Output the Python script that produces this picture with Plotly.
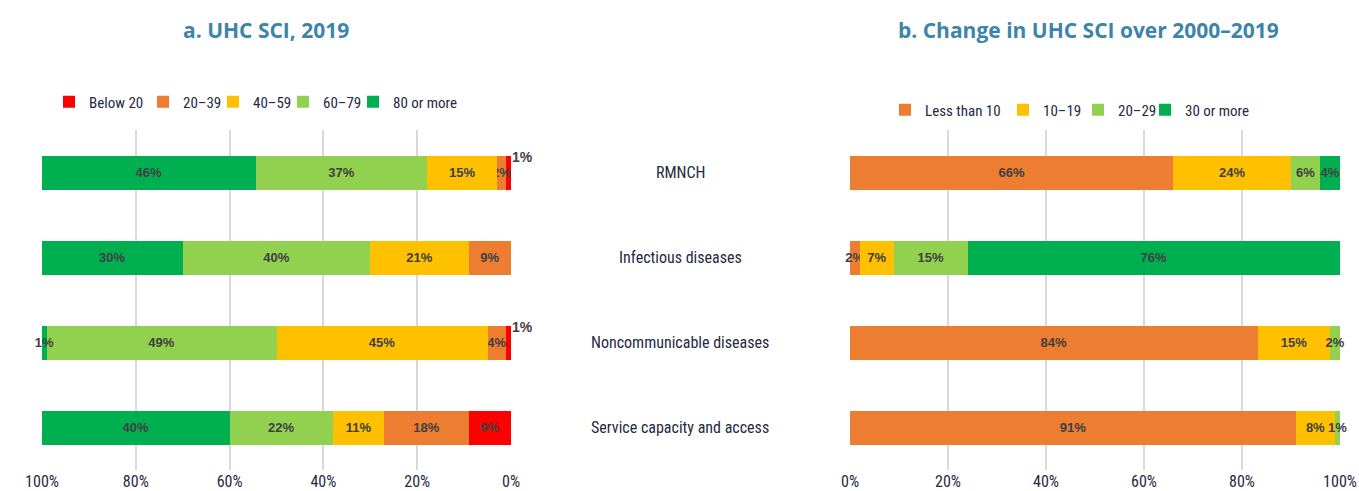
import plotly.graph_objects as go
from plotly.subplots import make_subplots

CATEGORIES = ["RMNCH", "Infectious diseases", "Noncommunicable diseases", "Service capacity and access"]

# panel a: distribution of countries by UHC SCI band, 2019 (%)
SCI_BANDS = ["Below 20", "20–39", "40–59", "60–79", "80 or more"]
SCI_BELOW_20 = [1, 0, 1, 9]
SCI_20_39 = [2, 9, 4, 18]
SCI_40_59 = [15, 21, 45, 11]
SCI_60_79 = [37, 40, 49, 22]
SCI_80_PLUS = [46, 30, 1, 40]

# panel b: change in UHC SCI 2000-2019 (%)
CHANGE_BANDS = ["Less than 10", "10–19", "20–29", "30 or more"]
CHANGE_LT_10 = [66, 2, 84, 91]
CHANGE_10_19 = [24, 7, 15, 8]
CHANGE_20_29 = [6, 15, 2, 1]
CHANGE_30_PLUS = [4, 76, 0, 0]

X_TICKS = [0, 20, 40, 60, 80, 100]
X_TICK_LABELS = ["0%", "20%", "40%", "60%", "80%", "100%"]

SCI_COLORS = ["#FF0000", "#ED7D31", "#FFC000", "#92D050", "#00B050"]
CHANGE_COLORS = ["#ED7D31", "#FFC000", "#92D050", "#00B050"]

NARROW = "Liberation Sans Narrow, Roboto Condensed, Arial Narrow, sans-serif"
NAVY = "#1F2A44"
LABEL = "#404040"
TEAL = "#3D84AA"
W, H = 1359, 491
ML, MR, MT, MB = 10, 10, 10, 20

# legend key centres (px) for each band, left panel then right panel
SCI_KEY_X = [71, 165, 235, 305, 375]
SCI_KEY_Y = 102
CHANGE_KEY_X = [907, 1025, 1100, 1167]
CHANGE_KEY_Y = 110


def px_x(px):
    return (px - ML) / (W - ML - MR)


def px_y(py):
    return 1 - (py - MT) / (H - MT - MB)


def pct_text(values, skip_small=False):
    out = []
    for v in values:
        if v <= 0 or (skip_small and v < 2):
            out.append("")
        else:
            out.append(f"{v}%")
    return out


fig = make_subplots(rows=1, cols=2)
legends = {}
n_legend = 0

sci_series = [SCI_BELOW_20, SCI_20_39, SCI_40_59, SCI_60_79, SCI_80_PLUS]
change_series = [CHANGE_LT_10, CHANGE_10_19, CHANGE_20_29, CHANGE_30_PLUS]
panels = [
    (1, SCI_BANDS, sci_series, SCI_COLORS, SCI_KEY_X, SCI_KEY_Y),
    (2, CHANGE_BANDS, change_series, CHANGE_COLORS, CHANGE_KEY_X, CHANGE_KEY_Y),
]
for col, bands, series, colors, key_x, key_y in panels:
    for i, (name, vals) in enumerate(zip(bands, series)):
        n_legend += 1
        lid = "legend" if n_legend == 1 else f"legend{n_legend}"
        legends[lid] = dict(
            x=px_x(key_x[i] - 22), y=px_y(key_y), xanchor="left", yanchor="middle",
            orientation="h", font=dict(family=NARROW, size=15, color=NAVY),
            bgcolor="rgba(0,0,0,0)", borderwidth=0,
        )
        fig.add_trace(
            go.Bar(
                y=CATEGORIES, x=vals, orientation="h", name=name,
                marker=dict(color=colors[i], line=dict(width=0)),
                text=pct_text(vals, skip_small=(col == 1 and i == 0)),
                textposition="inside", insidetextanchor="middle", textangle=0,
                textfont=dict(family="Liberation Sans", size=13, color=LABEL, weight="bold"),
                legend=lid, showlegend=True, width=0.4, cliponaxis=False,
            ),
            row=1, col=col,
        )

# tiny "Below 20" shares are labelled above the bar end
for cat, v in zip(CATEGORIES, SCI_BELOW_20):
    if 0 < v < 2:
        fig.add_annotation(
            x=0, y=cat, xref="x", yref="y", text=f"{v}%", showarrow=False,
            xanchor="left", yanchor="middle", xshift=-1, yshift=16,
            font=dict(family="Liberation Sans", size=14, color=LABEL, weight="bold"),
        )

# category labels between the panels
for cat in CATEGORIES:
    fig.add_annotation(
        x=px_x(680), y=cat, xref="paper", yref="y2", text=cat, showarrow=False,
        xanchor="center", yanchor="middle",
        font=dict(family=NARROW, size=16, color=NAVY),
    )

title_font = dict(family="Open Sans, sans-serif", size=21, color=TEAL)
fig.add_annotation(
    x=px_x(266), y=px_y(30), xref="paper", yref="paper", text="<b>a. UHC SCI, 2019</b>",
    showarrow=False, xanchor="center", yanchor="middle", font=title_font,
)
fig.add_annotation(
    x=px_x(1088), y=px_y(30), xref="paper", yref="paper",
    text="<b>b. Change in UHC SCI over 2000–2019</b>",
    showarrow=False, xanchor="center", yanchor="middle", font=title_font,
)

axis_common = dict(
    tickvals=X_TICKS, ticktext=X_TICK_LABELS, showgrid=True, gridcolor="#D9D9D9", gridwidth=2,
    zeroline=False, showline=False, ticks="", automargin=False,
    tickfont=dict(family=NARROW, size=16, color=NAVY),
)
fig.update_xaxes(range=[100, 0], domain=[px_x(42), px_x(511)], row=1, col=1, **axis_common)
fig.update_xaxes(range=[0, 100], domain=[px_x(850), px_x(1340)], row=1, col=2, **axis_common)
fig.update_yaxes(
    autorange="reversed", showticklabels=False, showgrid=False, zeroline=False,
    automargin=False, domain=[px_y(470), px_y(130)],
)

fig.update_layout(
    width=W, height=H,
    margin=dict(l=ML, r=MR, t=MT, b=MB, autoexpand=False),
    barmode="stack", barnorm="percent", showlegend=True,
    plot_bgcolor="white", paper_bgcolor="white",
    uniformtext=dict(minsize=13, mode="show"),
    **legends,
)

fig.write_html(
    "out.html",
    config={"displayModeBar": False},
    post_script="document.body.style.margin = '0';",
)
